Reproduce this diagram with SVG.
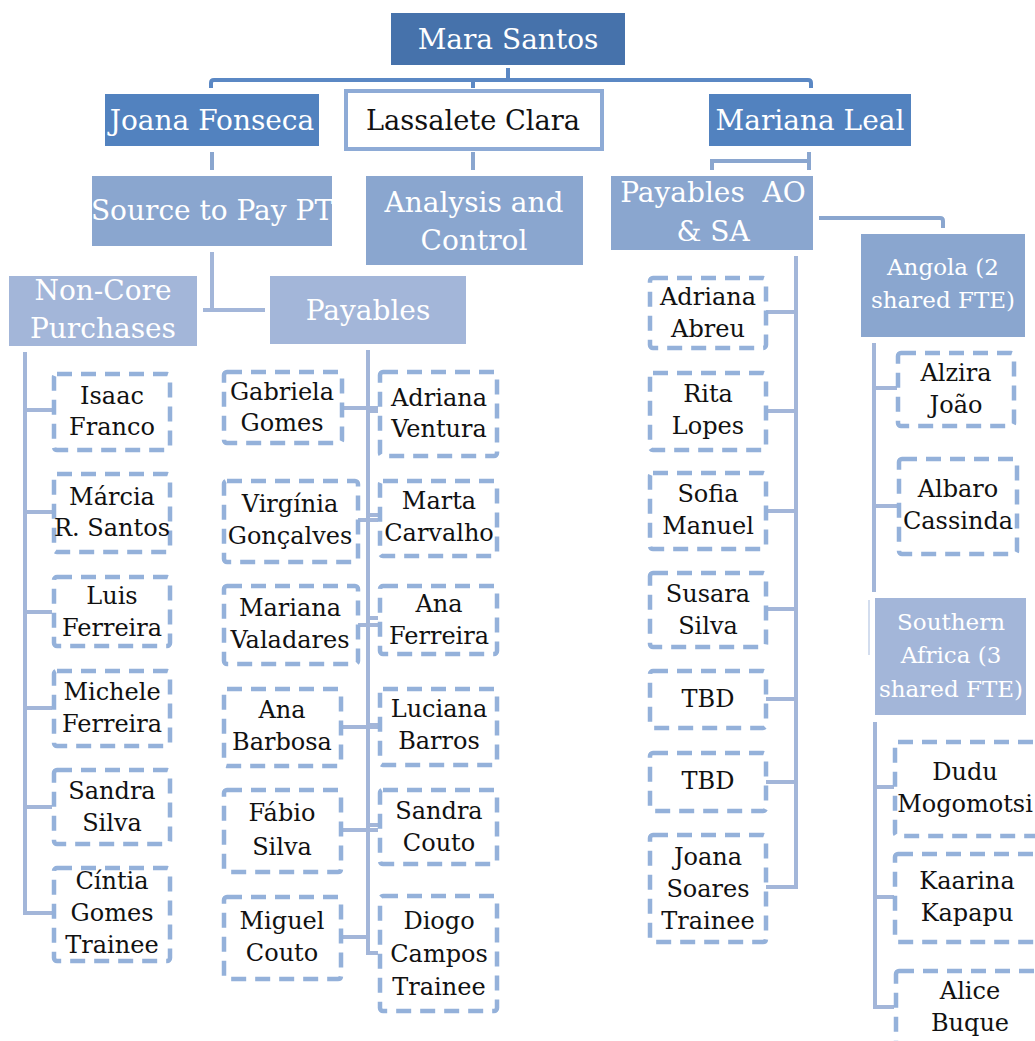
<svg xmlns="http://www.w3.org/2000/svg" width="1035" height="1041" viewBox="0 0 1035 1041">
<style>
  .h { font-family: "DejaVu Serif", "Liberation Serif", serif; font-size: 28px; fill: #ffffff; text-anchor: middle; }
  .hs { font-family: "DejaVu Serif", "Liberation Serif", serif; font-size: 23px; fill: #ffffff; text-anchor: middle; }
  .p { font-family: "DejaVu Serif", "Liberation Serif", serif; font-size: 24px; fill: #111111; text-anchor: middle; }
  .d { fill: #ffffff; stroke: #94b1da; stroke-width: 4.5; stroke-dasharray: 15 9; }
  .c1 { fill: none; stroke: #5b88c4; stroke-width: 4; }
  .c2 { fill: none; stroke: #a3b6d9; stroke-width: 4; }
  .c3 { fill: none; stroke: #8aa6cf; stroke-width: 4; }
</style>
<rect width="1035" height="1041" fill="#ffffff"/>

<g id="connectors">
  <path class="c1" d="M508 68 V80 M211 88 V83 Q211 80 214 80 H808 Q811 80 811 83 V88 M473 80 V88"/>
  <path class="c3" d="M212 152 V170 M473 152 V170 M809 152 V170 M809 161 H712 V170"/>
  <path class="c3" d="M819 218 H940 Q943 218 943 221 V228"/>
  <path class="c2" d="M212 252 V310 M203 310 H265"/>
  <path class="c2" d="M25 352 V913 H52 M25 410 H52 M25 512 H52 M25 612 H52 M25 708 H52 M25 807 H52"/>
  <path class="c2" d="M368 350 V953 H378 M342 408 H378 M358 520 H378 M358 625 H378 M341 727 H378 M341 830 H378 M341 937 H368 M368 411 H378 M368 515 H378 M368 618 H378 M368 725 H378 M368 825 H378"/>
  <path class="c2" d="M796 256 V887 H766 M766 312 H796 M766 411 H796 M766 511 H796 M766 609 H796 M766 699 H796 M766 782 H796"/>
  <path class="c2" d="M874 343 V592 M874 388 H897 M874 506 H898"/>
  <path fill="none" stroke="#d3ddee" stroke-width="2" d="M869 600 V655"/>
  <path class="c2" d="M875 722 V1007 H894 M875 787 H894 M875 897 H894"/>
</g>

<g id="mara-santos">
  <rect x="391" y="13" width="234" height="52" fill="#4672ab"/>
  <text class="h" x="508" y="49">Mara Santos</text>
</g>
<g id="joana-fonseca">
  <rect x="105" y="94" width="214" height="52" fill="#5282bf"/>
  <text class="h" x="212" y="130">Joana Fonseca</text>
</g>
<g id="lassalete-clara">
  <rect x="346" y="91" width="256" height="58" fill="#ffffff" stroke="#8eabd6" stroke-width="4"/>
  <text class="h" x="473" y="130" style="fill:#111111" textLength="214" lengthAdjust="spacingAndGlyphs">Lassalete Clara</text>
</g>
<g id="mariana-leal">
  <rect x="709" y="94" width="202" height="52" fill="#5282bf"/>
  <text class="h" x="810" y="130">Mariana Leal</text>
</g>

<g id="source-to-pay">
  <rect x="92" y="176" width="240" height="70" fill="#8aa6cf"/>
  <text class="h" x="212" y="220">Source to Pay PT</text>
</g>
<g id="analysis-control">
  <rect x="366" y="176" width="217" height="89" fill="#8aa6cf"/>
  <text class="h" x="474" y="212">Analysis and</text>
  <text class="h" x="474" y="250">Control</text>
</g>
<g id="payables-ao-sa">
  <rect x="611" y="176" width="202" height="74" fill="#8aa6cf"/>
  <text class="h" x="713" y="202" style="white-space:pre">Payables  AO</text>
  <text class="h" x="713" y="241">&amp; SA</text>
</g>
<g id="angola">
  <rect x="861" y="234" width="164" height="103" fill="#8aa6cf"/>
  <text class="hs" x="943" y="275">Angola (2</text>
  <text class="hs" x="943" y="308">shared FTE)</text>
</g>

<g id="non-core">
  <rect x="9" y="276" width="188" height="70" fill="#a3b6d9"/>
  <text class="h" x="103" y="300">Non-Core</text>
  <text class="h" x="103" y="338">Purchases</text>
</g>
<g id="payables">
  <rect x="270" y="276" width="196" height="68" fill="#a3b6d9"/>
  <text class="h" x="368" y="320">Payables</text>
</g>
<g id="southern-africa">
  <rect x="875" y="598" width="151" height="117" fill="#a3b6d9"/>
  <text class="hs" x="951" y="630">Southern</text>
  <text class="hs" x="951" y="663">Africa (3</text>
  <text class="hs" x="951" y="697">shared FTE)</text>
</g>

<!-- Non-Core children -->
<g id="isaac-franco">
  <rect class="d" x="54" y="374" width="116" height="76" rx="3"/>
  <text class="p" x="112" y="404">Isaac</text><text class="p" x="112" y="435">Franco</text>
</g>
<g id="marcia-santos">
  <rect class="d" x="54" y="474" width="116" height="78" rx="3"/>
  <text class="p" x="112" y="505">Márcia</text><text class="p" x="112" y="536">R. Santos</text>
</g>
<g id="luis-ferreira">
  <rect class="d" x="54" y="577" width="116" height="69" rx="3"/>
  <text class="p" x="112" y="604">Luis</text><text class="p" x="112" y="636">Ferreira</text>
</g>
<g id="michele-ferreira">
  <rect class="d" x="54" y="671" width="116" height="75" rx="3"/>
  <text class="p" x="112" y="700">Michele</text><text class="p" x="112" y="732">Ferreira</text>
</g>
<g id="sandra-silva">
  <rect class="d" x="54" y="770" width="116" height="74" rx="3"/>
  <text class="p" x="112" y="799">Sandra</text><text class="p" x="112" y="831">Silva</text>
</g>
<g id="cintia-gomes">
  <rect class="d" x="54" y="868" width="116" height="93" rx="3"/>
  <text class="p" x="112" y="889">Cíntia</text><text class="p" x="112" y="921">Gomes</text><text class="p" x="112" y="953">Trainee</text>
</g>

<!-- Payables left children -->
<g id="gabriela-gomes">
  <rect class="d" x="224" y="372" width="118" height="71" rx="3"/>
  <text class="p" x="282" y="400">Gabriela</text><text class="p" x="282" y="431">Gomes</text>
</g>
<g id="virginia-goncalves">
  <rect class="d" x="224" y="481" width="134" height="81" rx="3"/>
  <text class="p" x="290" y="512">Virgínia</text><text class="p" x="290" y="544">Gonçalves</text>
</g>
<g id="mariana-valadares">
  <rect class="d" x="224" y="586" width="134" height="78" rx="3"/>
  <text class="p" x="290" y="616">Mariana</text><text class="p" x="290" y="648">Valadares</text>
</g>
<g id="ana-barbosa">
  <rect class="d" x="224" y="689" width="117" height="77" rx="3"/>
  <text class="p" x="282" y="718">Ana</text><text class="p" x="282" y="750">Barbosa</text>
</g>
<g id="fabio-silva">
  <rect class="d" x="224" y="790" width="117" height="82" rx="3"/>
  <text class="p" x="282" y="821">Fábio</text><text class="p" x="282" y="855">Silva</text>
</g>
<g id="miguel-couto">
  <rect class="d" x="224" y="897" width="117" height="82" rx="3"/>
  <text class="p" x="282" y="929">Miguel</text><text class="p" x="282" y="961">Couto</text>
</g>

<!-- Payables right children -->
<g id="adriana-ventura">
  <rect class="d" x="380" y="372" width="117" height="84" rx="3"/>
  <text class="p" x="439" y="406">Adriana</text><text class="p" x="439" y="437">Ventura</text>
</g>
<g id="marta-carvalho">
  <rect class="d" x="380" y="481" width="117" height="75" rx="3"/>
  <text class="p" x="439" y="509">Marta</text><text class="p" x="439" y="541">Carvalho</text>
</g>
<g id="ana-ferreira">
  <rect class="d" x="380" y="586" width="117" height="68" rx="3"/>
  <text class="p" x="439" y="612">Ana</text><text class="p" x="439" y="644">Ferreira</text>
</g>
<g id="luciana-barros">
  <rect class="d" x="380" y="689" width="117" height="76" rx="3"/>
  <text class="p" x="439" y="717">Luciana</text><text class="p" x="439" y="749">Barros</text>
</g>
<g id="sandra-couto">
  <rect class="d" x="380" y="790" width="117" height="74" rx="3"/>
  <text class="p" x="439" y="819">Sandra</text><text class="p" x="439" y="851">Couto</text>
</g>
<g id="diogo-campos">
  <rect class="d" x="380" y="896" width="117" height="115" rx="3"/>
  <text class="p" x="439" y="929">Diogo</text><text class="p" x="439" y="962">Campos</text><text class="p" x="439" y="995">Trainee</text>
</g>

<!-- Payables AO & SA children -->
<g id="adriana-abreu">
  <rect class="d" x="650" y="278" width="116" height="70" rx="3"/>
  <text class="p" x="708" y="305">Adriana</text><text class="p" x="708" y="337">Abreu</text>
</g>
<g id="rita-lopes">
  <rect class="d" x="650" y="373" width="116" height="77" rx="3"/>
  <text class="p" x="708" y="402">Rita</text><text class="p" x="708" y="434">Lopes</text>
</g>
<g id="sofia-manuel">
  <rect class="d" x="650" y="473" width="116" height="76" rx="3"/>
  <text class="p" x="708" y="502">Sofia</text><text class="p" x="708" y="534">Manuel</text>
</g>
<g id="susara-silva">
  <rect class="d" x="650" y="573" width="116" height="74" rx="3"/>
  <text class="p" x="708" y="602">Susara</text><text class="p" x="708" y="634">Silva</text>
</g>
<g id="tbd-1">
  <rect class="d" x="650" y="671" width="116" height="57" rx="3"/>
  <text class="p" x="708" y="707">TBD</text>
</g>
<g id="tbd-2">
  <rect class="d" x="650" y="753" width="116" height="58" rx="3"/>
  <text class="p" x="708" y="789">TBD</text>
</g>
<g id="joana-soares">
  <rect class="d" x="650" y="835" width="116" height="107" rx="3"/>
  <text class="p" x="708" y="865">Joana</text><text class="p" x="708" y="897">Soares</text><text class="p" x="708" y="929">Trainee</text>
</g>

<!-- Angola children -->
<g id="alzira-joao">
  <rect class="d" x="898" y="353" width="116" height="73" rx="3"/>
  <text class="p" x="956" y="381">Alzira</text><text class="p" x="956" y="413">João</text>
</g>
<g id="albaro-cassinda">
  <rect class="d" x="899" y="459" width="118" height="95" rx="3"/>
  <text class="p" x="958" y="497">Albaro</text><text class="p" x="958" y="529">Cassinda</text>
</g>

<!-- Southern Africa children -->
<g id="dudu-mogomotsi">
  <rect class="d" x="895" y="742" width="160" height="94" rx="3"/>
  <text class="p" x="965" y="780">Dudu</text><text class="p" x="965" y="812">Mogomotsi</text>
</g>
<g id="kaarina-kapapu">
  <rect class="d" x="895" y="854" width="160" height="88" rx="3"/>
  <text class="p" x="967" y="889">Kaarina</text><text class="p" x="967" y="921">Kapapu</text>
</g>
<g id="alice-buque">
  <rect class="d" x="896" y="971" width="160" height="90" rx="3"/>
  <text class="p" x="970" y="999">Alice</text><text class="p" x="970" y="1031">Buque</text>
</g>
</svg>
